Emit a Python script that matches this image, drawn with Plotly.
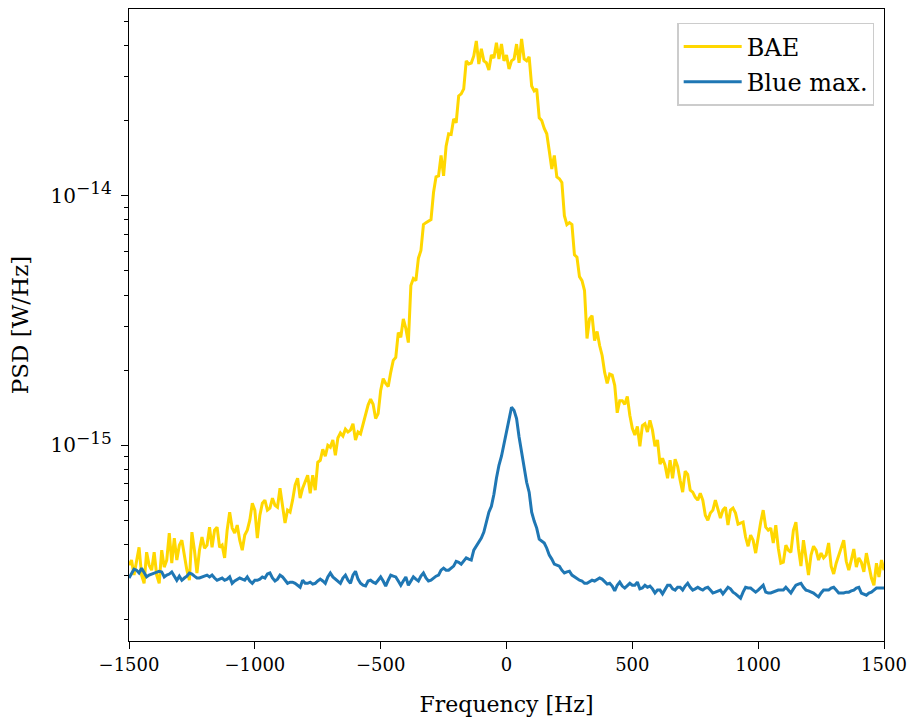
import plotly.graph_objects as go

# Frequency grid [Hz]
freq_hz = list(range(-1500, 1501, 10))

# PSD values, in units of 1e-16 W/Hz
PSD_UNIT = 1e-16

bae_psd = [
    3.31, 3.47, 3.02, 3.47, 3.90, 3.02, 2.80, 3.73, 3.31, 3.16,
    3.73, 3.02, 2.80, 3.80, 3.25, 3.47, 4.45, 3.37, 4.25, 3.47,
    3.98, 4.17, 3.63, 3.16, 2.88, 4.49, 3.80, 3.08, 3.80, 4.29,
    3.87, 3.98, 4.70, 3.90, 4.57, 4.70, 3.90, 3.98, 3.54, 4.57,
    5.40, 4.66, 4.45, 4.79, 4.17, 3.80, 4.37, 4.57, 5.01, 5.86,
    5.50, 4.25, 5.25, 5.86, 6.03, 5.50, 5.60, 6.14, 5.75, 5.65,
    6.73, 5.60, 4.88, 5.50, 5.40, 6.03, 6.92, 7.38, 6.14, 6.73,
    7.11, 7.59, 6.43, 7.59, 6.61, 8.55, 8.71, 9.64, 9.04, 10.0,
    9.82, 10.5, 9.12, 10.7, 11.2, 10.9, 11.6, 11.3, 11.5, 12.2,
    10.5, 11.3, 11.1, 12.2, 13.3, 14.5, 15.3, 14.6, 12.8, 13.4,
    16.6, 18.5, 17.7, 17.2, 19.6, 21.9, 22.5, 28.3, 27.1, 32.1,
    29.4, 25.8, 43.7, 46.6, 45.7, 56.2, 60.3, 76.6, 78.0, 79.4,
    80.2, 103, 119, 120, 145, 120, 158, 177, 176, 203,
    196, 251, 256, 268, 347, 337, 340, 363, 417, 337,
    388, 347, 341, 319, 366, 356, 410, 353, 405, 347,
    366, 322, 347, 353, 405, 341, 425, 353, 347, 360,
    275, 263, 268, 205, 200, 186, 177, 151, 128, 145,
    119, 117, 113, 83.2, 76.6, 78.0, 76.6, 58.0, 56.7, 47.4,
    45.7, 41.7, 26.8, 32.1, 33.1, 26.3, 28.6, 25.1, 22.9, 19.6,
    17.7, 19.3, 19.1, 17.4, 13.5, 15.1, 15.1, 14.6, 15.7, 13.2,
    11.7, 11.0, 11.9, 9.91, 12.0, 12.2, 11.3, 12.6, 11.5, 9.91,
    10.5, 8.40, 8.87, 8.32, 7.38, 8.71, 7.38, 8.79, 8.24, 7.24,
    6.49, 7.87, 7.65, 6.61, 6.49, 6.20, 6.03, 6.43, 6.03, 5.25,
    5.01, 5.35, 5.50, 6.03, 5.60, 5.11, 5.50, 5.65, 4.79, 5.50,
    5.60, 5.35, 4.83, 4.88, 4.92, 4.29, 3.94, 4.37, 4.17, 3.70,
    4.29, 4.92, 5.50, 4.70, 4.57, 4.66, 4.06, 4.79, 3.87, 3.37,
    3.40, 3.98, 3.80, 3.73, 4.57, 4.92, 3.87, 3.28, 4.17, 3.54,
    3.02, 3.63, 3.94, 3.80, 3.47, 3.70, 3.54, 3.63, 4.06, 3.28,
    3.05, 3.37, 3.60, 3.87, 4.17, 3.43, 3.16, 3.47, 3.84, 3.25,
    3.54, 3.40, 3.11, 3.70, 3.31, 2.94, 2.75, 3.37, 2.97, 3.47,
    3.16,
]

blue_max_psd = [
    2.94, 3.08, 3.19, 3.16, 3.08, 3.22, 3.11, 2.97, 3.02, 3.05,
    3.08, 3.11, 3.13, 3.11, 2.97, 3.02, 3.05, 3.11, 2.97, 2.88,
    2.99, 2.88, 2.94, 2.99, 3.08, 3.05, 2.99, 2.94, 2.94, 2.97,
    2.99, 3.02, 2.97, 3.02, 2.94, 2.88, 2.91, 2.94, 2.88, 2.91,
    2.97, 2.80, 2.86, 2.91, 2.94, 2.91, 2.88, 2.97, 2.86, 2.80,
    2.88, 2.88, 2.91, 2.97, 2.94, 3.05, 3.08, 2.94, 2.86, 2.91,
    3.02, 2.97, 2.88, 2.80, 2.83, 2.83, 2.80, 2.75, 2.70, 2.88,
    2.80, 2.80, 2.83, 2.78, 2.80, 2.86, 2.91, 2.86, 2.80, 2.97,
    3.08, 2.97, 2.91, 2.86, 2.80, 2.94, 3.02, 2.88, 2.80, 3.02,
    3.13, 2.91, 2.80, 2.75, 2.73, 2.86, 2.88, 2.83, 2.80, 2.88,
    2.97, 2.86, 2.73, 2.88, 3.02, 2.99, 2.97, 2.86, 2.75, 2.86,
    2.97, 2.75, 2.88, 2.97, 2.91, 2.86, 2.99, 3.08, 2.94, 2.86,
    2.88, 2.94, 2.99, 3.02, 3.16, 3.22, 3.16, 3.16, 3.22, 3.28,
    3.43, 3.40, 3.34, 3.43, 3.54, 3.50, 3.47, 3.80, 3.94, 4.06,
    4.25, 4.49, 4.92, 5.40, 5.70, 6.37, 7.38, 8.32, 9.04, 10.1,
    11.3, 12.4, 14.2, 13.8, 12.8, 10.8, 9.38, 8.08, 7.11, 6.49,
    5.40, 4.97, 4.66, 4.21, 4.13, 4.06, 3.87, 3.63, 3.50, 3.34,
    3.31, 3.28, 3.16, 3.08, 3.11, 3.13, 3.02, 2.97, 2.91, 2.88,
    2.86, 2.80, 2.80, 2.83, 2.88, 2.86, 2.91, 2.94, 2.91, 2.83,
    2.78, 2.80, 2.73, 2.61, 2.75, 2.83, 2.73, 2.68, 2.73, 2.80,
    2.75, 2.75, 2.83, 2.66, 2.68, 2.75, 2.70, 2.73, 2.66, 2.56,
    2.63, 2.63, 2.54, 2.63, 2.75, 2.75, 2.66, 2.63, 2.70, 2.70,
    2.63, 2.73, 2.80, 2.70, 2.63, 2.66, 2.70, 2.66, 2.63, 2.68,
    2.70, 2.63, 2.56, 2.58, 2.61, 2.63, 2.54, 2.61, 2.70, 2.66,
    2.58, 2.54, 2.49, 2.44, 2.58, 2.70, 2.68, 2.68, 2.63, 2.58,
    2.63, 2.68, 2.75, 2.58, 2.56, 2.56, 2.58, 2.61, 2.63, 2.63,
    2.63, 2.70, 2.63, 2.56, 2.66, 2.75, 2.78, 2.80, 2.70, 2.63,
    2.61, 2.58, 2.56, 2.51, 2.47, 2.56, 2.63, 2.63, 2.63, 2.68,
    2.70, 2.63, 2.56, 2.56, 2.56, 2.58, 2.58, 2.61, 2.63, 2.68,
    2.70, 2.56, 2.54, 2.51, 2.56, 2.58, 2.63, 2.68, 2.68, 2.68,
    2.68,
]

x_tick_vals = [-1500, -1000, -500, 0, 500, 1000, 1500]
x_tick_text = ["\u22121500", "\u22121000", "\u2212500", "0", "500", "1000", "1500"]
y_tick_vals = [1e-15, 1e-14]
y_tick_text = [
    '10<sup><span style="font-size:17px">\u221215</span></sup>',
    '10<sup><span style="font-size:17px">\u221214</span></sup>',
]
y_minor_vals = ([k * 1e-16 for k in range(2, 10)]
                + [k * 1e-15 for k in range(2, 10)]
                + [k * 1e-14 for k in range(2, 6)])

FONT = "DejaVu Serif"

fig = go.Figure()
fig.add_trace(go.Scatter(
    x=freq_hz, y=[v * PSD_UNIT for v in bae_psd], mode="lines", name="BAE",
    legendgroup="bae", line=dict(color="#FFD700", width=3),
))
fig.add_trace(go.Scatter(
    x=freq_hz, y=[v * PSD_UNIT for v in blue_max_psd], mode="lines", name="Blue max.",
    legendgroup="blue", line=dict(color="#1F77B4", width=3),
))

axis_common = dict(
    showgrid=False, zeroline=False, showline=True, linecolor="black", linewidth=1.3,
    mirror=True, ticks="outside", ticklen=7, tickwidth=1.3, tickcolor="black",
)

fig.update_layout(
    width=915, height=722,
    margin=dict(l=129, r=29, t=8, b=81),
    paper_bgcolor="white", plot_bgcolor="white",
    font=dict(family=FONT, size=20, color="black"),
    xaxis=dict(
        range=[-1500, 1500], tickmode="array", tickvals=x_tick_vals, ticktext=x_tick_text,
        tickfont=dict(family=FONT, size=18, color="black"),
        title=dict(text="Frequency [Hz]", font=dict(family=FONT, size=22), standoff=22),
        **axis_common,
    ),
    yaxis=dict(
        type="log", range=[-15.784, -13.252], tickmode="array",
        tickvals=y_tick_vals, ticktext=y_tick_text,
        tickfont=dict(family=FONT, size=20, color="black"),
        ticklabelstandoff=5,
        minor=dict(tickmode="array", tickvals=y_minor_vals, ticks="outside",
                   ticklen=4, tickwidth=1, tickcolor="black", showgrid=False),
        title=dict(text="PSD [W/Hz]", font=dict(family=FONT, size=23), standoff=15),
        **axis_common,
    ),
    legend=dict(
        x=0.987, y=0.978, xanchor="right", yanchor="top",
        bgcolor="white", bordercolor="#CCCCCC", borderwidth=1.5,
        font=dict(family=FONT, size=24, color="black"),
        itemwidth=58, tracegroupgap=1, traceorder="grouped",
    ),
)

fig.write_html("out.html", config={"displayModeBar": False},
               post_script="document.body.style.margin='0';")
